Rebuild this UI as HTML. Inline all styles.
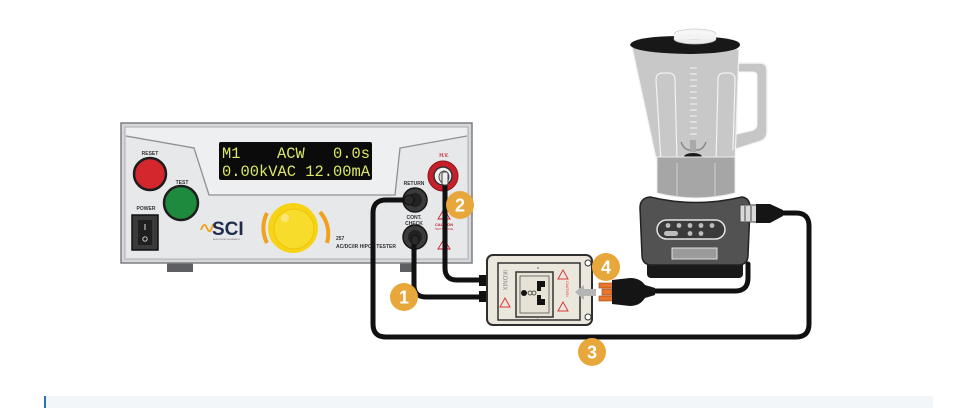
<!DOCTYPE html>
<html><head><meta charset="utf-8"><style>
html,body{margin:0;padding:0;background:#fff;}
body{width:973px;height:408px;overflow:hidden;position:relative;}
svg{position:absolute;left:0;top:0;}
.bar{position:absolute;left:44px;top:396px;width:889px;height:12px;background:#f2f6f9;border-left:2px solid #2f6fb5;box-sizing:border-box;}
</style></head><body>
<svg width="973" height="408" viewBox="0 0 973 408" xmlns="http://www.w3.org/2000/svg" font-family="Liberation Sans, sans-serif">
<!-- ===== TESTER ===== -->
<rect x="167" y="262" width="26" height="10" fill="#5e5f62"/>
<rect x="400" y="262" width="16" height="10" fill="#5e5f62"/>
<rect x="121" y="123" width="351" height="140" fill="#d6d7d9" stroke="#7d7f83" stroke-width="1.5"/>
<rect x="125" y="127" width="343" height="132" fill="#eeeff0" stroke="#a9abae" stroke-width="1"/>
<path d="M126 136 L194 148 L209 195 L395 195 L400 148 L467 136 L467 258 L126 258 Z" fill="#e7e8ea"/>
<polyline points="126,136 194,148 209,195 395,195 400,148 467,136" fill="none" stroke="#8e9093" stroke-width="1.3"/>
<!-- display -->
<rect x="219" y="142" width="153" height="38" fill="#0b0b0b" rx="2"/>
<g font-family="Liberation Mono, monospace" font-size="15.4" fill="#dce864">
<text x="222" y="158">M1</text>
<text x="277" y="158">ACW</text>
<text x="333" y="158">0.0s</text>
<text x="222" y="176" textLength="148" lengthAdjust="spacingAndGlyphs">0.00kVAC 12.00mA</text>
</g>
<!-- buttons -->
<text x="150" y="155" font-size="5" font-weight="bold" text-anchor="middle" fill="#333">RESET</text>
<circle cx="150" cy="174" r="16" fill="#d3262d" stroke="#1d1d1d" stroke-width="2.5"/>
<text x="182" y="184" font-size="5" font-weight="bold" text-anchor="middle" fill="#333">TEST</text>
<circle cx="181" cy="203" r="17" fill="#1e8a3e" stroke="#1d1d1d" stroke-width="2.5"/>
<text x="146" y="210" font-size="5" font-weight="bold" text-anchor="middle" fill="#333">POWER</text>
<rect x="132" y="215" width="26" height="35" fill="#3a3a3a" stroke="#111" stroke-width="1.5"/>
<rect x="138" y="220" width="14" height="25" fill="#1f1f1f"/>
<line x1="145" y1="224" x2="145" y2="230" stroke="#ddd" stroke-width="1"/>
<circle cx="145" cy="239" r="2.2" fill="none" stroke="#ddd" stroke-width="0.9"/>
<!-- logo -->
<path d="M201 230 Q204 221 207 228 Q210 236 213 224" fill="none" stroke="#f0a21c" stroke-width="1.8"/>
<text x="212" y="235" font-size="19" font-weight="bold" fill="#1f2c4e">SCI</text>
<text x="213" y="240" font-size="2.2" fill="#666">ASSOCIATED RESEARCH</text>
<!-- knob -->
<path d="M267 213 A33 33 0 0 0 267 243" fill="none" stroke="#f0a21c" stroke-width="4"/>
<path d="M320 212 A33 33 0 0 1 327 243" fill="none" stroke="#f0a21c" stroke-width="4"/>
<circle cx="293" cy="228" r="25" fill="#f6d414"/>
<circle cx="294" cy="229" r="20" fill="#f8dc2c" stroke="#ecc40e" stroke-width="1"/>
<circle cx="285" cy="218" r="4" fill="#f9e67a"/>
<text x="336" y="240" font-size="5" font-weight="bold" fill="#333">257</text>
<text x="336" y="248" font-size="5" font-weight="bold" fill="#333">AC/DC/IR HIPOT TESTER</text>
<!-- right terminals -->
<text x="444" y="157" font-size="5" font-weight="bold" text-anchor="middle" fill="#c8202a">H.V.</text>
<text x="451" y="198" font-size="3" font-weight="bold" fill="#c8202a">WARNING</text>
<text x="451" y="202" font-size="3" font-weight="bold" fill="#c8202a">HIGH VOLT</text>
<path d="M444 209 L450 219 L438 219 Z" fill="none" stroke="#c8202a" stroke-width="0.9"/>
<text x="444" y="226" font-size="4" font-weight="bold" text-anchor="middle" fill="#c8202a">CAUTION</text>
<text x="444" y="230" font-size="2.5" text-anchor="middle" fill="#c8202a">HIGH VOLTAGE</text>
<path d="M444 239 L450 249 L438 249 Z" fill="none" stroke="#c8202a" stroke-width="0.9"/>
<text x="414" y="185" font-size="5" font-weight="bold" text-anchor="middle" fill="#333">RETURN</text>
<text x="414" y="219" font-size="5" font-weight="bold" text-anchor="middle" fill="#333">CONT.</text>
<text x="414" y="225" font-size="5" font-weight="bold" text-anchor="middle" fill="#333">CHECK</text>
<circle cx="415" cy="200" r="12" fill="#3b3b3b" stroke="#151515" stroke-width="1.5"/>
<circle cx="415" cy="200" r="7" fill="#222"/>
<circle cx="415" cy="237" r="12" fill="#3b3b3b" stroke="#151515" stroke-width="1.5"/>
<circle cx="415" cy="237" r="7" fill="#222"/>
<circle cx="443" cy="176" r="15" fill="#c8202a" stroke="#8f1218" stroke-width="1"/>
<circle cx="443" cy="176" r="9" fill="#f4f4f4" stroke="#333" stroke-width="1.5"/>
<ellipse cx="444" cy="177" rx="5" ry="6" fill="#dcdcdc" stroke="#555" stroke-width="1"/>
<!-- ===== CABLES ===== -->
<g fill="none" stroke="#111" stroke-width="5" stroke-linecap="round" stroke-linejoin="round">
<path d="M408 200 L386 200 Q373 200 373 213 L373 324 Q373 337 386 337 L796 337 Q809 337 809 324 L809 226 Q809 213 796 213 L783 213"/>
<path d="M414 242 L414 285 Q414 297 426 297 L483 297"/>
<path d="M445 183 L445 268 Q445 280 457 280 L483 280"/>
<path d="M655 291 L735 291 Q748 291 748 278 L748 264"/>
</g>
<ellipse cx="409" cy="200" rx="5" ry="5" fill="#2a2a2a" stroke="#111"/>
<ellipse cx="415" cy="240" rx="4" ry="5" fill="#2a2a2a" stroke="#111"/>
<rect x="442" y="172" width="6" height="13" rx="2" fill="#eee" stroke="#444" stroke-width="1"/>
<!-- ===== ADAPTER BOX ===== -->
<rect x="479" y="275" width="10" height="11" fill="#111"/>
<rect x="479" y="291" width="10" height="11" fill="#111"/>
<rect x="487" y="255" width="105" height="70" rx="6" fill="#ebe7dc" stroke="#2e2e2e" stroke-width="2"/>
<circle cx="588" cy="263" r="3" fill="#fff" stroke="#333" stroke-width="1"/>
<circle cx="588" cy="317" r="3" fill="#fff" stroke="#333" stroke-width="1"/>
<rect x="498" y="263" width="82" height="57" fill="none" stroke="#333" stroke-width="1.5"/>
<rect x="516" y="272" width="37" height="45" fill="#e6e2d5" stroke="#333" stroke-width="1.5"/>
<rect x="520" y="276" width="29" height="37" fill="none" stroke="#555" stroke-width="0.8"/>
<path d="M537 281 L545 281 L545 287 L541 287 L541 291 L537 291 Z" fill="#111"/>
<path d="M537 305 L545 305 L545 299 L541 299 L541 295 L537 295 Z" fill="#111"/>
<circle cx="524" cy="293" r="3" fill="#111"/>
<circle cx="530" cy="293" r="2" fill="none" stroke="#333" stroke-width="0.8"/>
<circle cx="534" cy="293" r="2" fill="none" stroke="#333" stroke-width="0.8"/>
<text x="0" y="0" font-size="6" fill="#888" transform="translate(503,270) rotate(90)">IKONIX</text>
<path d="M505 298 L510 307 L500 307 Z" fill="none" stroke="#d93a3a" stroke-width="1"/>
<path d="M563 270 L568 279 L558 279 Z" fill="none" stroke="#d93a3a" stroke-width="1"/>
<text x="0" y="0" font-size="3.5" fill="#d93a3a" transform="translate(566,281) rotate(90)">CAUTION</text>
<path d="M563 302 L568 311 L558 311 Z" fill="none" stroke="#d93a3a" stroke-width="1"/>
<text x="538" y="269" font-size="3" text-anchor="middle" fill="#444">N</text>
<text x="538" y="320" font-size="3" text-anchor="middle" fill="#444">L</text>
<polygon points="575,292 584,285 584,289 596,289 596,296 584,296 584,300" fill="#b5b5b5"/>
<!-- plug 4 -->
<rect x="599" y="283" width="15" height="5" fill="#e8772e" stroke="#9a4512" stroke-width="0.6"/>
<rect x="599" y="296" width="15" height="5" fill="#e8772e" stroke="#9a4512" stroke-width="0.6"/>
<rect x="602" y="289" width="10" height="6" fill="#e8772e" stroke="#9a4512" stroke-width="0.6"/>
<path d="M612 280 L630 278 Q640 278 645 285 L655 288 L655 295 L645 298 Q640 306 630 306 L612 304 Z" fill="#151515"/>
<!-- ===== BLENDER ===== -->
<!-- handle -->
<path d="M733 63 L760 63 Q767 63 767 70 L767 132 Q767 140 758 142 L733 150 Z" fill="#c6c6c6" stroke="#f4f4f4" stroke-width="1.5"/>
<path d="M737 72 L753 72 Q757 72 757 76 L757 124 Q757 130 750 131 L737 134 Z" fill="#fff" stroke="#f4f4f4"/>
<!-- jar -->
<path d="M632 47 L739 49 L735 163 L657 163 Z" fill="#c8c8c8" stroke="#f2f2f2" stroke-width="1.2"/>
<path d="M661 162 L656 80 Q656 73 663 73 L668 73 Q675 73 675 80 L677 162" fill="none" stroke="#f3f3f3" stroke-width="1.2"/>
<path d="M716 162 L718 80 Q718 73 724 73 L729 73 Q735 73 735 80 L733 150" fill="none" stroke="#f3f3f3" stroke-width="1.2"/>
<g stroke="#f3f3f3" stroke-width="1">
<line x1="690" y1="68" x2="697" y2="68"/><line x1="690" y1="74" x2="697" y2="74"/><line x1="690" y1="80" x2="697" y2="80"/><line x1="690" y1="86" x2="697" y2="86"/><line x1="690" y1="92" x2="697" y2="92"/><line x1="690" y1="98" x2="697" y2="98"/><line x1="690" y1="104" x2="697" y2="104"/><line x1="690" y1="110" x2="697" y2="110"/><line x1="690" y1="116" x2="697" y2="116"/><line x1="690" y1="122" x2="697" y2="122"/><line x1="690" y1="128" x2="697" y2="128"/><line x1="690" y1="134" x2="697" y2="134"/>
</g>
<path d="M681 142 Q684 150 690 150 L697 150 Q703 150 706 142" fill="none" stroke="#888" stroke-width="1.5"/>
<rect x="690" y="140" width="6" height="12" fill="#aaa"/>
<ellipse cx="693" cy="157" rx="9" ry="4" fill="#1a1a1a"/>
<!-- collar -->
<path d="M657 157 L735 157 L735 193 Q696 203 657 193 Z" fill="#a6a6a6" stroke="#ececec" stroke-width="1"/>
<line x1="677" y1="163" x2="677" y2="196" stroke="#d0d0d0" stroke-width="1"/>
<line x1="715" y1="163" x2="715" y2="196" stroke="#d0d0d0" stroke-width="1"/>
<!-- motor base -->
<rect x="647" y="260" width="96" height="18" rx="4" fill="#191919"/>
<path d="M650 197 Q696 208 742 197 Q750 198 750 208 L748 255 Q748 265 738 265 L652 265 Q642 265 642 255 L640 208 Q640 198 650 197 Z" fill="#525252" stroke="#222" stroke-width="1.5"/>
<rect x="657" y="220" width="68" height="19" rx="9.5" fill="#3a3a3a" stroke="#e4e4e4" stroke-width="1.5"/>
<g fill="#bdbdbd">
<circle cx="668" cy="225.5" r="2.4"/><circle cx="679" cy="225.5" r="2.4"/><circle cx="690" cy="225.5" r="2.4"/><circle cx="701" cy="225.5" r="2.4"/><circle cx="712" cy="225.5" r="2.4"/>
<rect x="664" y="231" width="14" height="5" rx="2.5"/><circle cx="690" cy="233.5" r="2.4"/><circle cx="701" cy="233.5" r="2.4"/>
</g>
<rect x="672" y="248" width="45" height="11" fill="#9b9b9b" stroke="#e0e0e0" stroke-width="1"/>
<!-- lid -->
<path d="M630 45 Q632 36 686 36 Q741 37 740 45 Q739 53 690 54 Q634 53 630 45 Z" fill="#181818"/>
<ellipse cx="695" cy="39" rx="21" ry="5" fill="#ededed" stroke="#bbb" stroke-width="0.8"/>
<ellipse cx="695" cy="34" rx="21" ry="5" fill="#f6f6f6" stroke="#ccc" stroke-width="0.8"/>
<rect x="674" y="34" width="42" height="5" fill="#f3f3f3"/>
<!-- blender plug -->
<rect x="740" y="205" width="17" height="17" fill="#d9d9d9" stroke="#444" stroke-width="1"/>
<line x1="745" y1="206" x2="745" y2="221" stroke="#444" stroke-width="1"/>
<line x1="751" y1="206" x2="751" y2="221" stroke="#444" stroke-width="1"/>
<path d="M756 204 L770 204 L783 210 L783 216 L770 223 L756 223 Z" fill="#151515"/>
<!-- ===== BADGES ===== -->
<g fill="#e8a73a">
<circle cx="404" cy="297" r="14"/>
<circle cx="460" cy="205" r="14"/>
<circle cx="592" cy="352" r="14"/>
<circle cx="606" cy="267" r="14"/>
</g>
<g fill="#fff" font-size="18" font-weight="bold" text-anchor="middle">
<text x="404" y="303.5">1</text>
<text x="460" y="211.5">2</text>
<text x="592" y="358.5">3</text>
<text x="606" y="273.5">4</text>
</g>
</svg>
<div class="bar"></div>
</body></html>
